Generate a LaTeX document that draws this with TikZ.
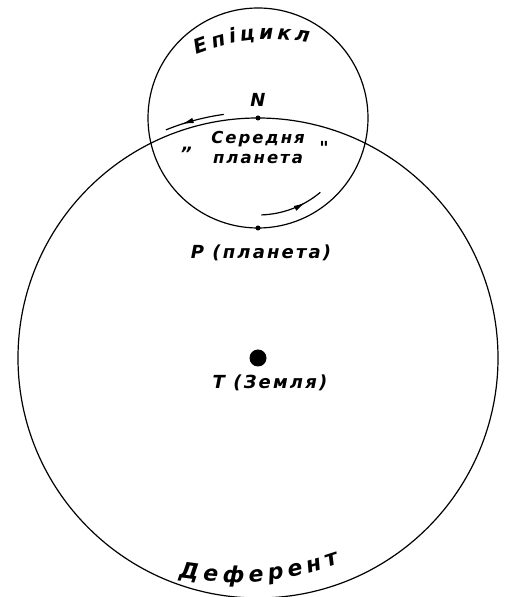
\documentclass[tikz,border=0pt]{standalone}
\usepackage{fontspec}
\setmainfont{DejaVu Sans}
\newfontfamily\lblfont[LetterSpace=12]{DejaVu Sans}
\usetikzlibrary{positioning, arrows.meta, decorations.text, decorations.markings}

\newcommand\arcF[1]{\lblfont\bfseries\itshape\fontsize{#1}{22}\selectfont}
\newcommand\gapF[1]{\fontsize{#1}{10}\selectfont}

\begin{document}
\begin{tikzpicture}[
    x=1pt, y=1pt,
    orbit/.style={
        draw,
        line width=1.2pt
    },
    dot/.style={
        circle,
        fill=black,
        inner sep=0pt,
        minimum size=#1
    },
    lbl/.style={
        font=\lblfont\bfseries\itshape\fontsize{18}{20}\selectfont,
        inner sep=1pt,
        align=center
    },
    motion/.style={
        line width=1.2pt,
        postaction={decorate, decoration={markings,
            mark=at position 0.72 with {\arrow{Latex[length=12pt,width=5.5pt]}}}}
    }
]
    \useasboundingbox (0,0) rectangle (507,597);

    % Earth and the two centres
    \node[dot=17pt] (earth) at (258,239) {};
    \node[dot=5pt] (mean) at (258,479) {};
    \node[dot=5pt] (planet) at (258,369) {};

    % Deferent and epicycle
    \draw[orbit] (earth) circle[radius=240];
    \draw[orbit] (mean) circle[radius=110];

    % Motion along the circles
    \draw[motion] ([shift={(98:246)}]earth.center) arc[start angle=98, end angle=112, radius=246];
    \draw[motion] ([shift={(-88:97)}]mean.center) arc[start angle=-88, end angle=-50, radius=97];

    % Labels
    \node[lbl, above=8pt of mean] (n_lbl) {N};
    \node[lbl, below=9pt of mean, font=\lblfont\bfseries\itshape\fontsize{16.5}{20}\selectfont] (mean_lbl) {Середня\\планета};
    \node[lbl] (q_left) at ([xshift=-70pt, yshift=-32pt]mean.center) {„};
    \node[lbl] (q_right) at ([xshift=66pt, yshift=-30pt]mean.center) {"};
    \node[lbl, below=13pt of planet, xshift=3pt] (p_lbl) {P (планета)};
    \node[lbl, below=7pt of earth, xshift=12pt] (t_lbl) {T (Земля)};

    % Circle names
    \path[decorate, decoration={text along path, text align=center,
        text={|\arcF{20}|Е|\gapF{12}| |\arcF{20}|п|\gapF{12}| |\arcF{20}|і|\gapF{12}| |\arcF{20}|ц|\gapF{12}| |\arcF{20}|и|\gapF{12}| |\arcF{20}|к|\gapF{12}| |\arcF{20}|л}}]
        (192,541) to[bend left=16] (314,553);
    \path[decorate, decoration={text along path, text align=center,
        text={|\arcF{22}|Д|\gapF{15}| |\arcF{22}|е|\gapF{15}| |\arcF{22}|ф|\gapF{15}| |\arcF{22}|е|\gapF{15}| |\arcF{22}|р|\gapF{15}| |\arcF{22}|е|\gapF{15}| |\arcF{22}|н|\gapF{15}| |\arcF{22}|т}}]
        (174,20) to[bend right=14] (344,35);

\end{tikzpicture}
\end{document}
